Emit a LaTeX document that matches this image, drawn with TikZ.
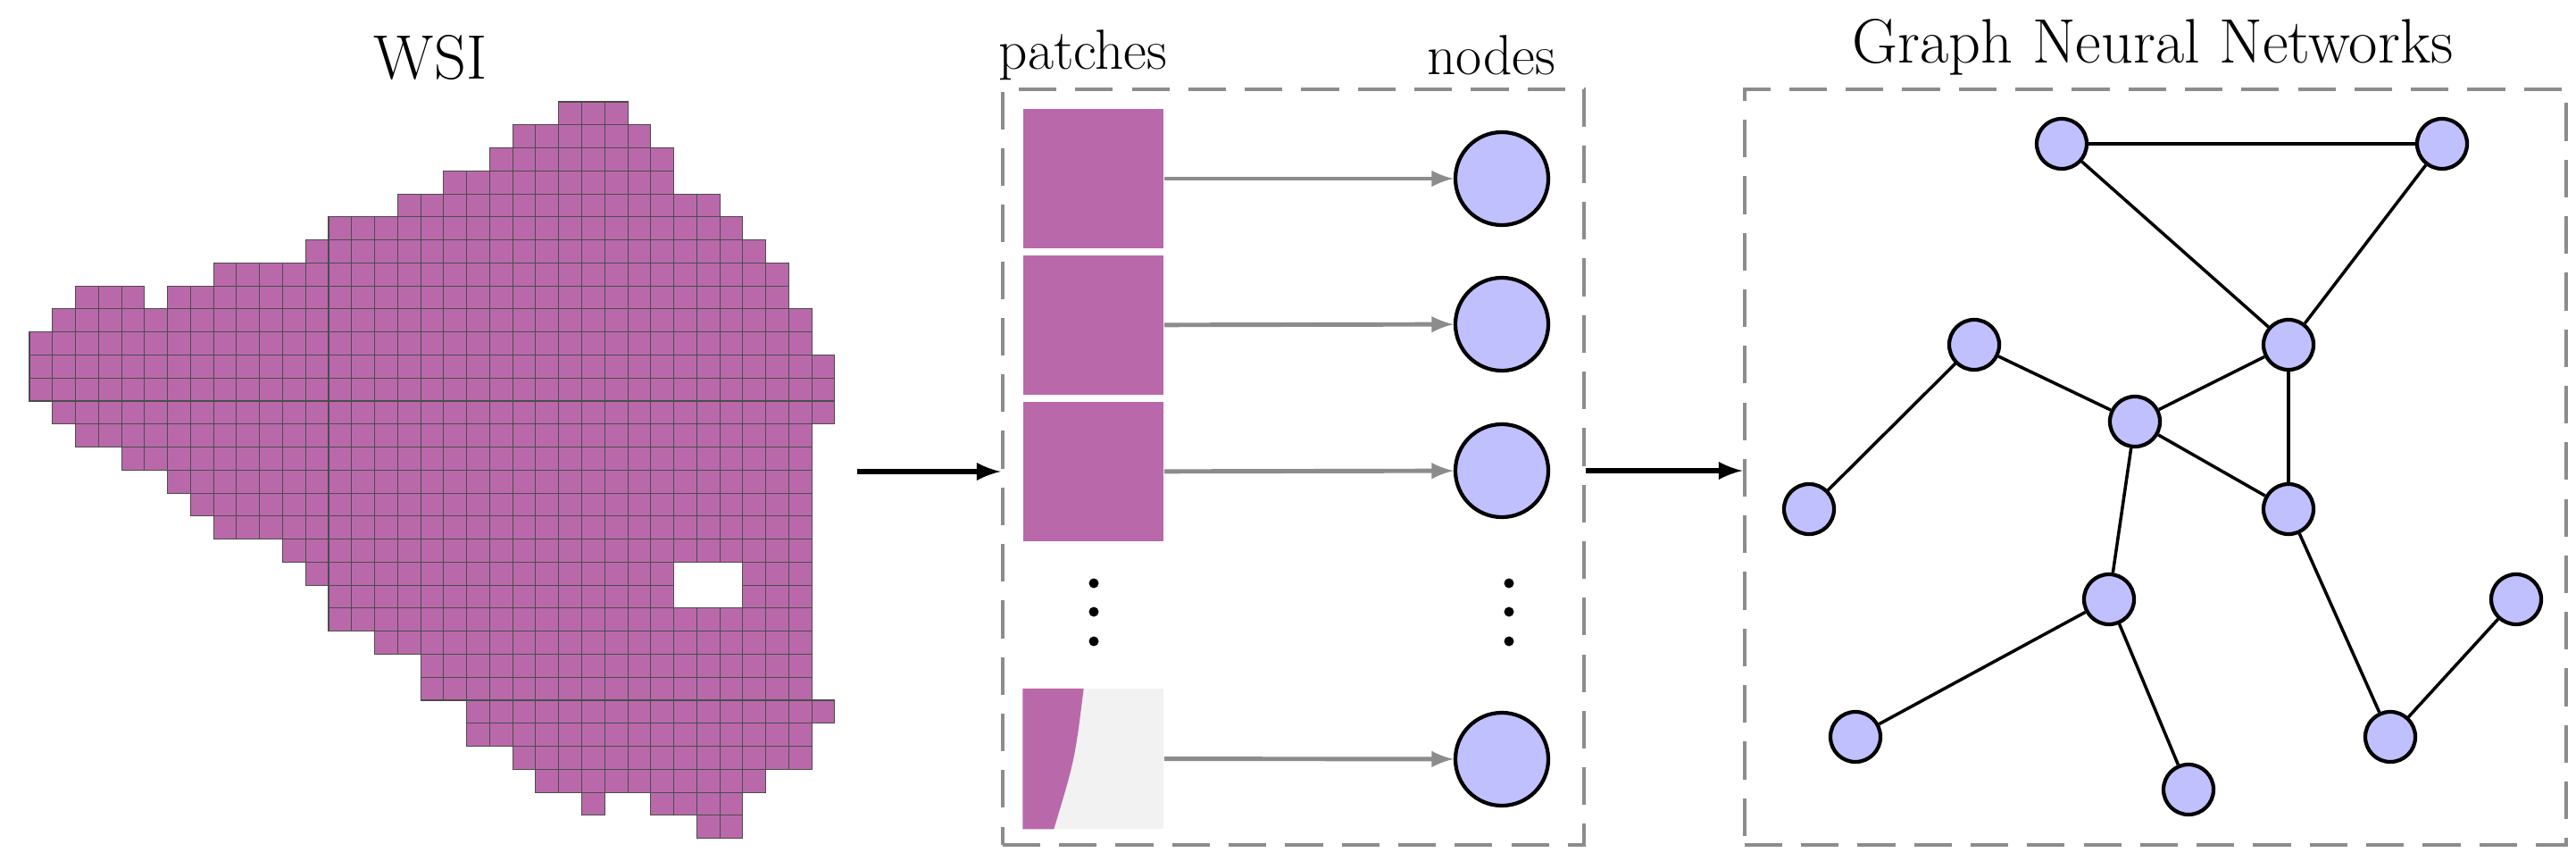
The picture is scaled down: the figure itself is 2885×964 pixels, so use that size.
\documentclass[tikz,border=0pt]{standalone}
\usepackage{tikz}
\usetikzlibrary{arrows,positioning}
\definecolor{tissue}{RGB}{185,105,170}
\definecolor{nodeblue}{RGB}{192,192,255}
\tikzset{cell/.style={draw=black!70, line width=0.3pt, fill=tissue},
  patch/.style={fill=tissue, minimum width=1.57cm, minimum height=1.56cm, inner sep=0pt},
  feat/.style={circle, draw, line width=1.2pt, fill=nodeblue, minimum size=1.04cm, inner sep=0pt},
  gnode/.style={circle, draw, line width=1.2pt, fill=nodeblue, minimum size=0.56cm, inner sep=0pt},
  panel/.style={draw=black!45, dashed, dash pattern=on 12pt off 6pt, line width=1.2pt},
  title/.style={font=\fontsize{20}{24}\selectfont},
  gline/.style={draw=black!45, line width=1.4pt, -latex},
  bline/.style={draw, line width=1.6pt, -latex}}
\begin{document}
\begin{tikzpicture}[x=0.01cm, y=-0.01cm]
    \useasboundingbox (0,0) rectangle (2885,964);
    % WSI tiles
    \foreach \r/\a/\b in {0/23/25, 1/21/26, 2/20/27, 3/18/27, 4/16/29, 5/13/30, 6/12/31, 7/8/32,
        8/2/4, 8/6/32, 9/1/33, 10/0/33, 11/0/34, 12/0/34, 13/1/34, 14/2/33, 15/4/33, 16/6/33,
        17/7/33, 18/8/33, 19/11/33, 20/12/27, 20/31/33, 21/13/27, 21/31/33, 22/13/33, 23/15/33,
        24/17/33, 25/17/33, 26/19/34, 27/19/33, 28/21/33, 29/22/31, 30/24/24, 30/27/30, 31/29/30}
      \foreach \c in {\a,...,\b}
        \path [cell] ({33+25.77*\c},{114+25.77*\r}) rectangle ++(25.77,25.77);
    \node [title] (wsi) at (482,64) {WSI};
    % patches and nodes
    \node [panel, minimum width=6.51cm, minimum height=8.46cm] (mid) at (1448.5,523) {};
    \node [title, font=\fontsize{18}{22}\selectfont] (ptxt) at (1213,62) {patches};
    \node [title, font=\fontsize{18}{22}\selectfont] (ntxt) at (1670,62) {nodes};
    \node [patch] (p1) at (1224.5,200) {};
    \node [patch] (p2) at (1224.5,364) {};
    \node [patch] (p3) at (1224.5,528) {};
    \node [patch, fill=black!5] (p4) at (1224.5,849.5) {};
    \fill [tissue] (p4.north west) -- ([xshift=-0.9cm] p4.north east) .. controls ([xshift=-1.0cm,yshift=-0.8cm] p4.north east) .. ([xshift=0.35cm] p4.south west) -- (p4.south west) -- cycle;
    \node [feat] (n1) at (1682,200) {};
    \node [feat] (n2) at (1682,363) {};
    \node [feat] (n3) at (1682,527) {};
    \node [feat] (n4) at (1682,850) {};
    \foreach \i in {1,...,4}
      \path [gline] (p\i) -- (n\i);
    \foreach \y in {653,685,718} {
      \fill (1225,\y) circle (0.055cm);
      \fill (1690,\y) circle (0.055cm);
    }
    \coordinate (wsiend) at (960,528);
    \path [bline] (wsiend) -- (mid.west |- wsiend);
    % graph
    \node [panel, minimum width=9.2cm, minimum height=8.46cm] (gbox) at (2414,523) {};
    \node [title] (gtxt) at (2411,53) {Graph Neural Networks};
    \path [bline] (mid.east |- n3) -- (gbox.west |- n3);
    \node [gnode] (a) at (2309,161) {};
    \node [gnode] (b) at (2735,161) {};
    \node [gnode] (c) at (2563,386) {};
    \node [gnode] (d) at (2211,386) {};
    \node [gnode] (e) at (2391,472) {};
    \node [gnode] (f) at (2026,570) {};
    \node [gnode] (g) at (2563,570) {};
    \node [gnode] (h) at (2362,671) {};
    \node [gnode] (i) at (2818,671) {};
    \node [gnode] (j) at (2078,825) {};
    \node [gnode] (k) at (2451,884) {};
    \node [gnode] (l) at (2677,825) {};
    \foreach \u/\v in {a/b, a/c, b/c, d/e, e/c, e/g, c/g, d/f, e/h, h/j, h/k, g/l, l/i}
      \draw [line width=1pt] (\u) -- (\v);
\end{tikzpicture}
\end{document}
